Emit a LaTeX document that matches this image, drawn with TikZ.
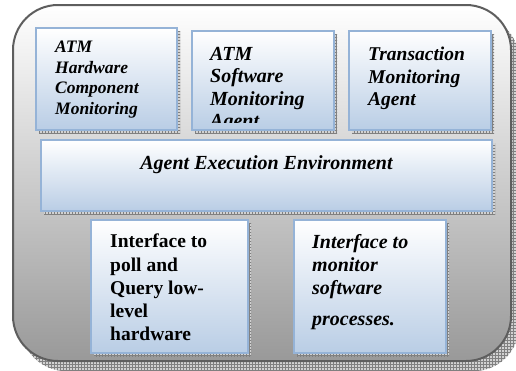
\documentclass[tikz,border=0pt]{standalone}
\usepackage{fontspec}
\setmainfont{Liberation Serif}
\usetikzlibrary{shadows,patterns}

\definecolor{boxline}{HTML}{95B3D7}
\definecolor{boxfill}{HTML}{B9CDE5}
\definecolor{frameline}{HTML}{5E5E5E}
\definecolor{framefill}{HTML}{999999}

\tikzset{
  gridshadow/.style={
    general shadow={fill=gray!35, shadow xshift=#1, shadow yshift=-#1},
    general shadow={pattern=grid, pattern color=gray, shadow xshift=#1, shadow yshift=-#1}},
  frame/.style={draw=frameline, line width=2pt, rounded corners=45pt,
    top color=white, bottom color=framefill, inner sep=0pt, anchor=north west,
    general shadow={fill=gray!35, shadow xshift=8pt, shadow yshift=-10pt},
    general shadow={pattern=grid, pattern color=gray, shadow xshift=8pt, shadow yshift=-10pt}},
  agentbox/.style={draw=boxline, line width=2pt, top color=white, bottom color=boxfill,
    inner sep=0pt, anchor=north west, gridshadow=3pt},
  boxtext/.style={anchor=north west, inner sep=0pt, align=left}
}

\begin{document}
\begin{tikzpicture}[x=1pt,y=-1pt]
\useasboundingbox (0,0) rectangle (516,370);

% outer frame
\node[frame, minimum width=498pt, minimum height=356pt] (frame) at (12,4) {};

% agents
\node[agentbox, minimum width=141pt, minimum height=102pt] (hwbox) at (35,27) {};
\node[agentbox, minimum width=142pt, minimum height=99pt] (swbox) at (191,30) {};
\node[agentbox, minimum width=142pt, minimum height=99pt] (txbox) at (348,30) {};

% execution environment
\node[agentbox, minimum width=451pt, minimum height=71pt] (envbox) at (40,139) {};

% interfaces
\node[agentbox, minimum width=157pt, minimum height=133pt] (pollbox) at (90,219) {};
\node[agentbox, minimum width=152pt, minimum height=133pt] (procbox) at (293,219) {};

% texts
\node[boxtext, font=\bfseries\itshape\fontsize{17.5}{20.5}\selectfont]
  (hwtext) at ([xshift=20pt,yshift=-14pt]hwbox.north west)
  {ATM\\Hardware\\Component\\Monitoring};
\begin{scope}
  \clip ([xshift=2pt,yshift=-2pt]swbox.north west) rectangle ([xshift=-2pt,yshift=9pt]swbox.south east);
  \node[boxtext, font=\bfseries\itshape\fontsize{20}{22.5}\selectfont]
    (swtext) at ([xshift=19pt,yshift=-17pt]swbox.north west)
    {ATM\\Software\\Monitoring\\Agent};
\end{scope}
\node[boxtext, font=\bfseries\itshape\fontsize{19.5}{22.5}\selectfont]
  (txtext) at ([xshift=20pt,yshift=-17pt]txbox.north west)
  {Transaction\\Monitoring\\Agent};
\node[anchor=base, inner sep=0pt, font=\bfseries\itshape\fontsize{20}{24}\selectfont]
  (envtext) at ([yshift=-30pt]envbox.north) {Agent Execution Environment};
\node[boxtext, font=\bfseries\fontsize{19.5}{23.2}\selectfont]
  (polltext) at ([xshift=20pt,yshift=-15pt]pollbox.north west)
  {Interface to\\poll and\\Query low-\\level\\hardware};
\node[boxtext, font=\bfseries\itshape\fontsize{20}{23}\selectfont]
  (proctext) at ([xshift=19pt,yshift=-15pt]procbox.north west)
  {Interface to\\monitor\\software\\[8pt]processes.};
\end{tikzpicture}
\end{document}
